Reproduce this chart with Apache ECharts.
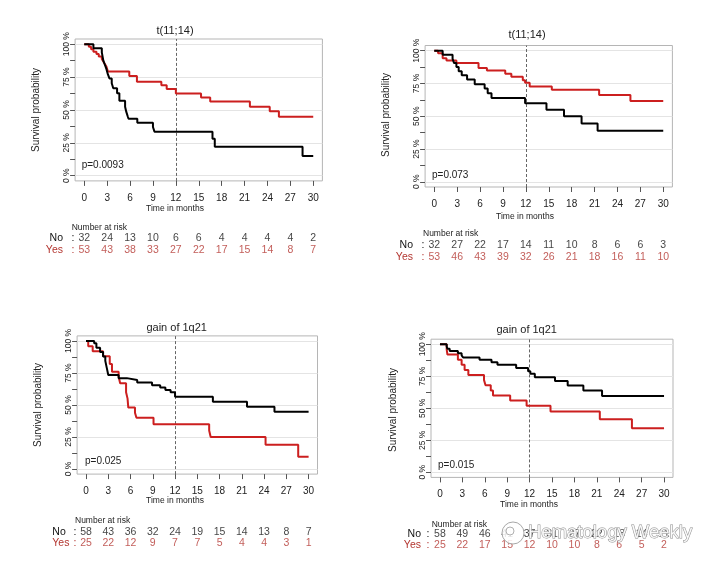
<!DOCTYPE html>
<html><head><meta charset="utf-8">
<script src="https://cdn.jsdelivr.net/npm/echarts@6/dist/echarts.min.js"></script>
<style>html,body{margin:0;padding:0;background:#fff}#c{width:720px;height:567px}</style>
</head><body><div id="c"></div>
<script>
// ---------------- data ----------------
const xTicks = [0, 3, 6, 9, 12, 15, 18, 21, 24, 27, 30];
const yTickValues = [0, 12.5, 25, 37.5, 50, 62.5, 75, 87.5, 100];
const yLabelValues = [0, 25, 50, 75, 100];
const titles = ['t(11;14)', 't(11;14)', 'gain of 1q21', 'gain of 1q21'];
const pValues = ['p=0.0093', 'p=0.073', 'p=0.025', 'p=0.015'];
const groupNames = ['No', 'Yes'];

// Kaplan-Meier curves: [month, survival %]
const p1No = [[0,100],[1.2,96.9],[2.3,93.8],[2.5,87.5],[2.7,84.4],[2.9,81.2],[3.1,77],[3.3,74],[3.6,70.3],[3.8,66.5],[4.3,62.7],[4.6,57],[5.35,52.5],[5.5,48.7],[5.7,45],[5.8,43.3],[6.95,40.3],[9.0,37],[9.2,33.5],[16.8,28],[17.1,22],[28.6,15],[30,15]];
const p1Yes = [[0,100],[0.6,98.1],[0.9,96.2],[1.2,94.3],[1.6,92.5],[1.9,90.6],[2.3,88.7],[2.5,86.8],[2.7,84.9],[2.9,83],[3.1,79.2],[5.9,75.9],[6.9,71.5],[10.1,68.8],[10.8,66],[12.0,62.5],[15.3,59.5],[16.5,56.5],[21.7,52.5],[24.3,49],[25.5,44.8],[30,44.8]];
const p2No = [[0,100],[1.1,96.9],[2.4,93.8],[2.6,90.6],[2.9,87.5],[3.2,84.4],[3.6,81.2],[4.3,78],[5.3,74.5],[6.6,71.2],[7.0,67.5],[7.5,64],[11.9,60],[14.7,55],[17.0,50],[19.3,44.5],[21.4,39],[30,39]];
const p2Yes = [[0,100],[0.5,98.1],[1.1,94.3],[1.6,92.5],[2.9,90.6],[5.8,86.8],[6.9,84.9],[9.3,82.5],[10.1,80.2],[11.6,77.5],[11.9,75.5],[12.5,72.8],[15.4,70.2],[21.6,66.2],[25.7,61.6],[30,61.6]];
const p3No = [[0,100],[1.1,98.3],[1.4,94.8],[1.9,91.4],[2.3,87.9],[2.6,84.5],[2.8,79],[3.0,73.5],[4.4,71],[5.5,69.5],[6.9,67.5],[8.9,65.5],[10.0,63.7],[10.7,61.7],[11.4,60],[12.0,56.5],[17.1,52.6],[21.7,48.7],[25.4,44.8],[30,44.8]];
const p3Yes = [[0,100],[0.3,96],[0.9,92],[2.3,88],[3.2,82],[3.5,76],[4.4,72],[4.6,67],[5.4,60],[5.6,55],[5.7,48],[6.6,44],[6.8,40],[9.1,35],[16.6,30],[16.8,25],[24.2,19],[28.6,9.5],[30,9.5]];
const p4No = [[0,100],[0.9,98.3],[1.0,96.6],[1.3,94.8],[2.4,93.1],[2.9,91.4],[3.1,89.7],[5.3,87.9],[6.9,86],[7.7,84],[10.2,81.5],[11.8,79],[12.1,77],[12.7,74.3],[15.4,71.4],[17.1,67.8],[19.2,63.9],[21.7,59.7],[30,59.7]];
const p4Yes = [[0,100],[0.9,96],[1.0,92],[2.4,88],[2.9,84],[3.3,80],[3.8,76],[5.9,72],[6.1,68],[6.8,64],[7.1,60],[9.4,56],[11.6,52],[14.8,47.5],[21.4,41.5],[25.7,34.5],[30,34.5]];

// Number at risk at each tick
const p1RiskNo = [32, 24, 13, 10, 6, 6, 4, 4, 4, 4, 2];
const p1RiskYes = [53, 43, 38, 33, 27, 22, 17, 15, 14, 8, 7];
const p2RiskNo = [32, 27, 22, 17, 14, 11, 10, 8, 6, 6, 3];
const p2RiskYes = [53, 46, 43, 39, 32, 26, 21, 18, 16, 11, 10];
const p3RiskNo = [58, 43, 36, 32, 24, 19, 15, 14, 13, 8, 7];
const p3RiskYes = [25, 22, 12, 9, 7, 7, 5, 4, 4, 3, 1];
const p4RiskNo = [58, 49, 46, 41, 37, 31, 27, 22, 18, 14, 11];
const p4RiskYes = [25, 22, 17, 15, 12, 10, 10, 8, 6, 5, 2];

const curves = [[p1No, p1Yes], [p2No, p2Yes], [p3No, p3Yes], [p4No, p4Yes]];
const risks = [[p1RiskNo, p1RiskYes], [p2RiskNo, p2RiskYes], [p3RiskNo, p3RiskYes], [p4RiskNo, p4RiskYes]];

// ---------------- layout / style ----------------
const FF = '"Liberation Sans", Arial, sans-serif';
const BLACK = '#000000', RED = '#cc1f1f', RISK_RED = '#b3352f';
const layout = [
  {l:75.1, t:39.0, w:247.3, h:141.9, rt:238, rh:12,
   title:[175,31], xlab:[175,209], ylab:[36,110], p:[81.7,165.7], nar:[71.7,228], rowX:63, rowAlign:'right', colon:73},
  {l:425.1, t:45.5, w:247.3, h:141.5, rt:245.5, rh:11.5,
   title:[527,35], xlab:[525,216.7], ylab:[386,115], p:[432,175], nar:[423,234], rowX:413, rowAlign:'right', colon:423},
  {l:77.1, t:335.9, w:240.4, h:138.2, rt:532, rh:10.7,
   title:[176.7,328], xlab:[175,501], ylab:[38,405], p:[85,461.7], nar:[75,520.7], rowX:52.3, rowAlign:'left', colon:75},
  {l:431.0, t:339.2, w:242, h:138.2, rt:534, rh:11.5,
   title:[526.7,330], xlab:[529,504.3], ylab:[393.3,410], p:[438,465.7], nar:[431.7,524.3], rowX:421, rowAlign:'right', colon:428}
];

const grid = [], xAxis = [], yAxis = [], series = [], graphic = [];

function txt(x, y, text, size, color, align, rot) {
  return {type:'text', x:x, y:y, rotation: rot || 0, silent:true,
    style:{text:text, fontSize:size, fontFamily:FF, fill:color, align:align || 'center', verticalAlign:'middle'}};
}

layout.forEach((L, i) => {
  const g = i * 2, r = i * 2 + 1;
  grid.push({left:L.l, top:L.t, width:L.w, height:L.h, show:true, borderColor:'#b5b5b5', borderWidth:1, backgroundColor:'transparent'});
  grid.push({left:L.l, top:L.rt, width:L.w, height:L.rh, show:false});
  xAxis.push({type:'value', gridIndex:g, min:-1.2, max:31.2,
    axisLine:{show:false, onZero:false}, splitLine:{show:false},
    axisTick:{show:true, length:5, customValues:xTicks, lineStyle:{color:'#555'}},
    axisLabel:{customValues:xTicks, margin:12, fontSize:10, fontFamily:FF, color:'#222'}});
  xAxis.push({type:'value', gridIndex:r, min:-1.2, max:31.2, show:false});
  yAxis.push({type:'value', gridIndex:g, min:-4, max:104,
    axisLine:{show:false, onZero:false}, splitLine:{show:false},
    axisTick:{show:true, length:5, customValues:yTickValues, lineStyle:{color:'#555'}},
    axisLabel:{customValues:yLabelValues, rotate:90, margin:4, fontSize:8.5, fontFamily:FF, color:'#222',
      formatter: v => v + ' %'}});
  yAxis.push({type:'value', gridIndex:r, min:0, max:1, show:false});

  const [noCurve, yesCurve] = curves[i];
  series.push({type:'line', xAxisIndex:g, yAxisIndex:g, data:noCurve, step:'end', showSymbol:false,
    lineStyle:{color:BLACK, width:2}, z:4, animation:false, silent:true,
    markLine:{silent:true, symbol:'none', z:1, animation:false, label:{show:false},
      data: yLabelValues.map(v => ({yAxis:v, lineStyle:{color:'#e4e4e4', type:'solid', width:1}}))
        .concat([{xAxis:12, lineStyle:{color:'#666', type:[3,2], width:1}}])}});
  series.push({type:'line', xAxisIndex:g, yAxisIndex:g, data:yesCurve, step:'end', showSymbol:false,
    lineStyle:{color:RED, width:2}, z:3, animation:false, silent:true});

  const [noRisk, yesRisk] = risks[i];
  [[noRisk, 1, '#111'], [yesRisk, 0, RISK_RED]].forEach(([arr, row, col]) => {
    series.push({type:'scatter', xAxisIndex:r, yAxisIndex:r, symbolSize:1, animation:false, silent:true,
      itemStyle:{color:'rgba(0,0,0,0)'},
      data: xTicks.map((t, k) => [t, row, arr[k]]),
      label:{show:true, position:'inside', formatter: p => String(p.value[2]), color:col, fontSize:10.5, fontFamily:FF}});
  });

  graphic.push(txt(L.title[0], L.title[1], titles[i], 11, '#222'));
  graphic.push(txt(L.xlab[0], L.xlab[1], 'Time in months', 8.5, '#222'));
  graphic.push(txt(L.ylab[0], L.ylab[1], 'Survival probability', 10, '#222', 'center', Math.PI / 2));
  graphic.push(txt(L.p[0], L.p[1], pValues[i], 10, '#222', 'left'));
  graphic.push(txt(L.nar[0], L.nar[1], 'Number at risk', 8.5, '#222', 'left'));
  graphic.push(txt(L.rowX, L.rt, groupNames[0], 10.5, '#111', L.rowAlign));
  graphic.push(txt(L.rowX, L.rt + L.rh, groupNames[1], 10.5, RISK_RED, L.rowAlign));
  graphic.push(txt(L.colon, L.rt, ':', 10.5, '#111'));
  graphic.push(txt(L.colon, L.rt + L.rh, ':', 10.5, RISK_RED));
});

// watermark
graphic.push({type:'circle', shape:{cx:513, cy:533, r:11}, silent:true, z:50,
  style:{fill:'rgba(255,255,255,0.85)', stroke:'#a8a8a8', lineWidth:1}});
graphic.push({type:'circle', shape:{cx:510, cy:531, r:4}, silent:true, z:51,
  style:{fill:'rgba(255,255,255,0.85)', stroke:'#b0b0b0', lineWidth:1}});
graphic.push({type:'text', x:528, y:533, silent:true, z:52,
  style:{text:'Hematology Weekly', fontSize:18.5, fontFamily:FF, fill:'rgba(255,255,255,0.88)', stroke:'#8f8f8f', lineWidth:1,
    align:'left', verticalAlign:'middle'}});

const chart = echarts.init(document.getElementById('c'), null, {renderer:'canvas', width:720, height:567});
chart.setOption({backgroundColor:'#ffffff', animation:false, grid, xAxis, yAxis, series, graphic});
</script></body></html>
